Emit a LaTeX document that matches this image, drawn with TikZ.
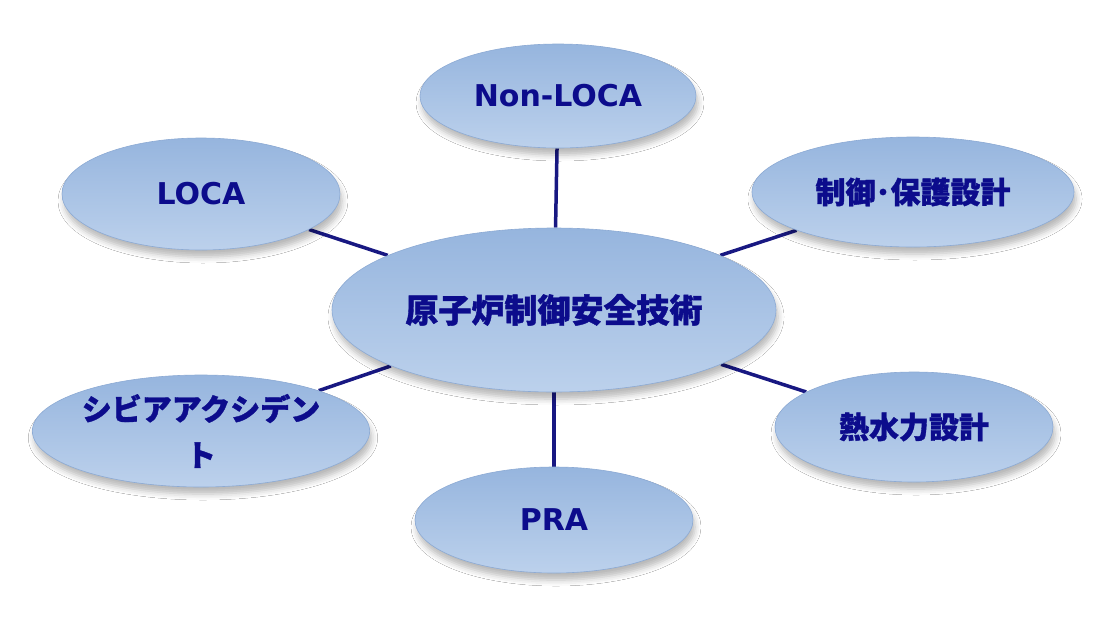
\documentclass[tikz,border=0pt]{standalone}
\usepackage{fontspec}
\setmainfont{DejaVu Sans}
\newfontfamily\jp{Noto Sans CJK JP}[BoldFeatures={FakeBold=1.2}]
\usetikzlibrary{shapes.geometric,backgrounds,shadows.blur}
\definecolor{txtblue}{RGB}{12,12,140}
\definecolor{linkblue}{RGB}{24,24,130}
\definecolor{eltop}{RGB}{150,181,222}
\definecolor{elmid}{RGB}{176,202,235}
\definecolor{elbot}{RGB}{188,209,236}
\definecolor{eledge}{RGB}{140,170,212}
\tikzset{
  bubble/.style={ellipse, inner sep=0pt, top color=eltop, middle color=elmid, bottom color=elbot,
    draw=eledge, line width=0.6pt, text=txtblue, align=center,
    blur shadow={shadow xshift=2pt, shadow yshift=-7pt, shadow blur radius=6pt, shadow opacity=28}},
  latinlbl/.style={font=\bfseries\fontsize{30}{36}\selectfont},
  jplbl/.style={font=\jp\bfseries\fontsize{30}{46}\selectfont},
  link/.style={draw=linkblue, line width=3.5pt}
}
\begin{document}
\begin{tikzpicture}[x=1pt,y=-1pt]
\useasboundingbox (0,0) rectangle (1107,624);
\node[bubble, minimum width=444pt, minimum height=164pt, font=\jp\bfseries\fontsize{33}{40}\selectfont] (c) at (554,310) {原子炉制御安全技術};
\node[bubble, latinlbl, minimum width=276pt, minimum height=104pt] (nl) at (558,96) {Non-LOCA};
\node[bubble, latinlbl, minimum width=278pt, minimum height=112pt] (loca) at (201,194) {LOCA};
\node[bubble, jplbl, minimum width=322pt, minimum height=110pt] (ctrl) at (913,192) {制御･保護設計};
\node[bubble, jplbl, minimum width=328pt, minimum height=112pt] (sa) at (201,431) {シビアアクシデン\\ト};
\node[bubble, jplbl, minimum width=278pt, minimum height=110pt] (thm) at (914,427) {熱水力設計};
\node[bubble, latinlbl, minimum width=278pt, minimum height=106pt] (pra) at (554,520) {PRA};
\begin{pgfonlayer}{background}
\fill[white] (0,0) rectangle (1107,624);
\draw[link] (c) -- (nl);
\draw[link] (c) -- (loca);
\draw[link] (c) -- (ctrl);
\draw[link] (c) -- (sa);
\draw[link] (c) -- (thm);
\draw[link] (c) -- (pra);
\end{pgfonlayer}
\end{tikzpicture}
\end{document}
